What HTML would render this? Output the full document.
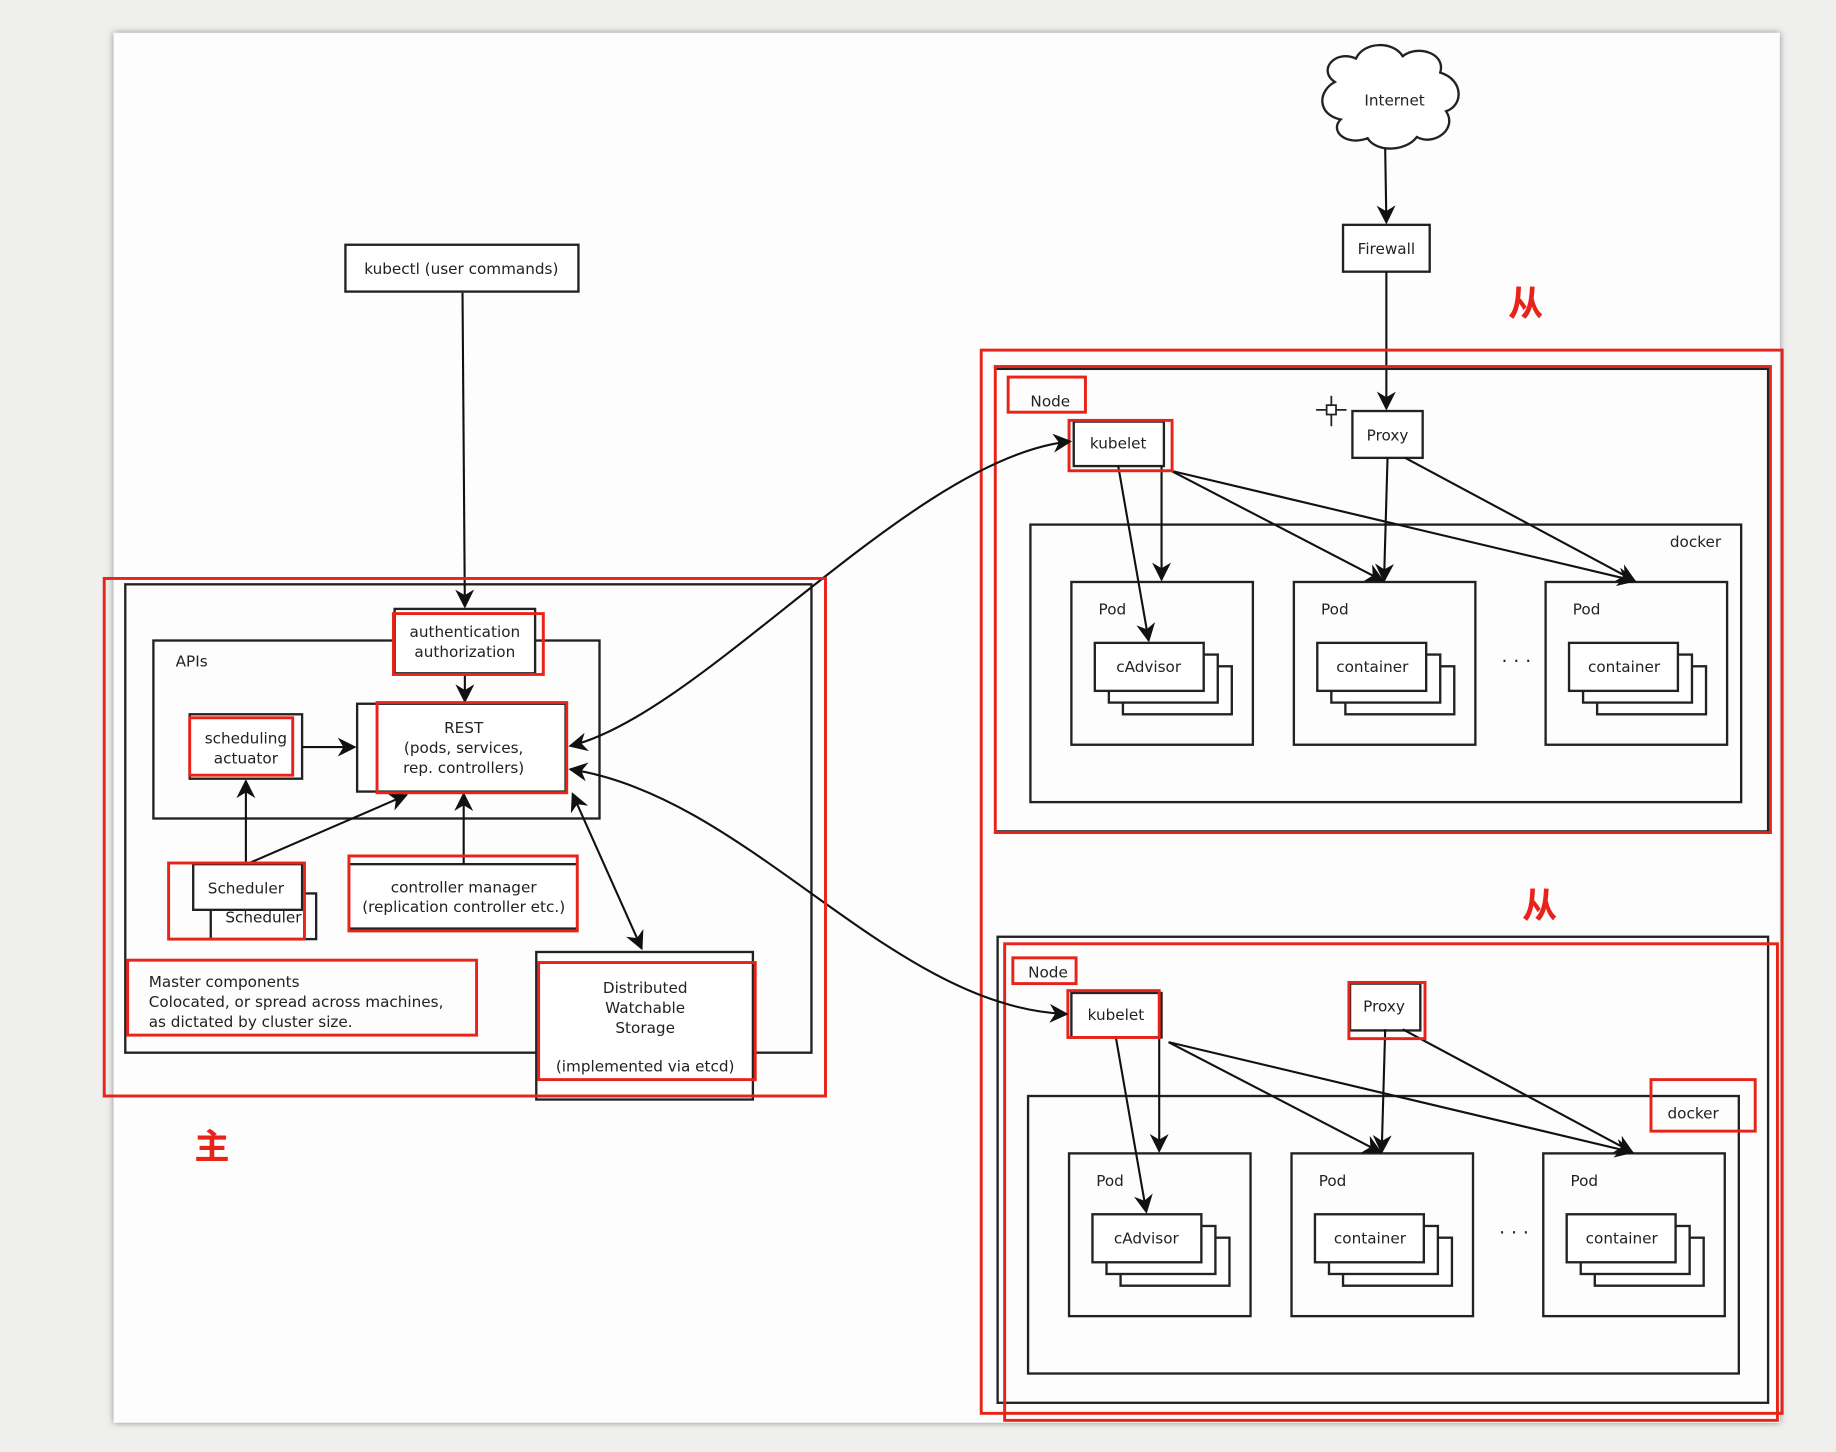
<!DOCTYPE html>
<html><head><meta charset="utf-8"><style>html,body{margin:0;padding:0;background:#efefed}svg{display:block}</style></head><body>
<svg width="1836" height="1452" viewBox="0 0 1568 1240" xmlns="http://www.w3.org/2000/svg" font-family="'DejaVu Sans','Liberation Sans',sans-serif" font-size="13">
<defs>
<marker id="a" viewBox="0 0 10 10" refX="9" refY="5" markerWidth="9" markerHeight="9" orient="auto-start-reverse"><path d="M0,0 L10,5 L0,10 L3,5 z" fill="#111"/></marker>
<filter id="sh" x="-2%" y="-2%" width="104%" height="104%"><feDropShadow dx="0" dy="0" stdDeviation="3" flood-color="#888"/></filter>
<g id="node" fill="none" stroke="#222" stroke-width="2">
<rect x="917" y="360" width="77" height="38" fill="#fff"/>
<rect x="880" y="448" width="607" height="237"/>
<rect x="915" y="497" width="155" height="139"/>
<rect x="1105" y="497" width="155" height="139"/>
<rect x="1320" y="497" width="155" height="139"/>
<g fill="#fff">
<rect x="959" y="569" width="93" height="41"/><rect x="947" y="559" width="93" height="41"/><rect x="935" y="549" width="93" height="41"/>
<rect x="1149" y="569" width="93" height="41"/><rect x="1137" y="559" width="93" height="41"/><rect x="1125" y="549" width="93" height="41"/>
<rect x="1364" y="569" width="93" height="41"/><rect x="1352" y="559" width="93" height="41"/><rect x="1340" y="549" width="93" height="41"/>
</g>
<g stroke="#111" stroke-width="1.8" marker-end="url(#a)">
<line x1="955" y1="398" x2="981" y2="547"/>
<line x1="992" y1="398" x2="992" y2="495"/>
<line x1="1000" y1="402" x2="1181" y2="496"/>
<line x1="1000" y1="402" x2="1396" y2="496"/>
<line x1="1185" y1="391" x2="1182" y2="496"/>
<line x1="1200" y1="391" x2="1396" y2="496"/>
</g>
<g stroke="none" fill="#222">
<text x="955" y="383" text-anchor="middle">kubelet</text>
<text x="1448" y="467" text-anchor="middle">docker</text>
<text x="950" y="525" text-anchor="middle">Pod</text><text x="1140" y="525" text-anchor="middle">Pod</text><text x="1355" y="525" text-anchor="middle">Pod</text>
<text x="981" y="574" text-anchor="middle">cAdvisor</text><text x="1172" y="574" text-anchor="middle">container</text><text x="1387" y="574" text-anchor="middle">container</text>
<text x="1295" y="570" text-anchor="middle" font-size="16">· · ·</text>
</g>
</g>
</defs>
<rect x="97" y="28" width="1423" height="1187" fill="#fcfdfc" filter="url(#sh)"/>

<!-- Internet & firewall -->
<path d="M1140,70 C1125,60 1140,42 1158,50 C1165,35 1190,35 1198,48 C1210,38 1235,45 1230,62 C1250,68 1250,90 1235,95 C1245,110 1225,125 1210,117 C1200,130 1175,130 1168,118 C1150,125 1135,112 1145,102 C1125,98 1125,78 1140,70 Z" fill="#fff" stroke="#222" stroke-width="2"/>
<text x="1191" y="90" text-anchor="middle" fill="#222">Internet</text>
<rect x="1147" y="192" width="74" height="40" fill="#fff" stroke="#222" stroke-width="2"/>
<text x="1184" y="217" text-anchor="middle" fill="#222">Firewall</text>
<g stroke="#111" stroke-width="1.8" fill="none" marker-end="url(#a)">
<line x1="1183" y1="127" x2="1184" y2="190"/>
<line x1="1184" y1="232" x2="1184" y2="349"/>
</g>

<!-- Node 1 -->
<rect x="850" y="315" width="660" height="395" fill="none" stroke="#222" stroke-width="2"/>
<rect x="1155" y="351" width="60" height="40" fill="#fff" stroke="#222" stroke-width="2"/>
<text x="1185" y="376" text-anchor="middle" fill="#222">Proxy</text>
<text x="897" y="347" text-anchor="middle" fill="#222">Node</text>
<use href="#node"/>
<g fill="none" stroke="#e8231a" stroke-width="2.5">
<rect x="838" y="299" width="684" height="908"/>
<rect x="850" y="313" width="662" height="398"/>
<rect x="861" y="322" width="66" height="30"/>
<rect x="913" y="359" width="88" height="43"/>
</g>
<g stroke="#222" stroke-width="1.5"><line x1="1124" y1="350" x2="1150" y2="350"/><line x1="1137" y1="338" x2="1137" y2="364"/></g>
<rect x="1133" y="346" width="8" height="8" fill="#fff" stroke="#222" stroke-width="1.5"/>

<!-- Node 2 -->
<rect x="852" y="800" width="658" height="398" fill="none" stroke="#222" stroke-width="2"/>
<rect x="1153" y="840" width="60" height="40" fill="#fff" stroke="#222" stroke-width="2"/>
<text x="1182" y="864" text-anchor="middle" fill="#222">Proxy</text>
<text x="895" y="835" text-anchor="middle" fill="#222">Node</text>
<g transform="translate(-2,488)"><use href="#node"/></g>
<g fill="none" stroke="#e8231a" stroke-width="2.5">
<rect x="858" y="806" width="660" height="407"/>
<rect x="865" y="818" width="54" height="22"/>
<rect x="912" y="846" width="78" height="40"/>
<rect x="1152" y="839" width="65" height="48"/>
<rect x="1410" y="922" width="89" height="44"/>
</g>

<!-- Master -->
<rect x="107" y="499" width="586" height="400" fill="none" stroke="#222" stroke-width="2"/>
<rect x="131" y="547" width="381" height="152" fill="none" stroke="#222" stroke-width="2"/>
<text x="150" y="569" fill="#222">APIs</text>
<rect x="337" y="520" width="120" height="55" fill="#fff" stroke="#222" stroke-width="2"/>
<text x="397" y="544" text-anchor="middle" fill="#222">authentication</text>
<text x="397" y="561" text-anchor="middle" fill="#222">authorization</text>
<rect x="305" y="601" width="178" height="75" fill="#fff" stroke="#222" stroke-width="2"/>
<text x="396" y="626" text-anchor="middle" fill="#222">REST</text>
<text x="396" y="643" text-anchor="middle" fill="#222">(pods, services,</text>
<text x="396" y="660" text-anchor="middle" fill="#222">rep. controllers)</text>
<rect x="162" y="610" width="96" height="55" fill="#fff" stroke="#222" stroke-width="2"/>
<text x="210" y="635" text-anchor="middle" fill="#222">scheduling</text>
<text x="210" y="652" text-anchor="middle" fill="#222">actuator</text>
<rect x="180" y="763" width="90" height="39" fill="#fff" stroke="#222" stroke-width="2"/>
<text x="225" y="788" text-anchor="middle" fill="#222">Scheduler</text>
<rect x="165" y="738" width="93" height="39" fill="#fff" stroke="#222" stroke-width="2"/>
<text x="210" y="763" text-anchor="middle" fill="#222">Scheduler</text>
<rect x="298" y="738" width="195" height="55" fill="#fff" stroke="#222" stroke-width="2"/>
<text x="396" y="762" text-anchor="middle" fill="#222">controller manager</text>
<text x="396" y="779" text-anchor="middle" fill="#222">(replication controller etc.)</text>
<text x="127" y="843" fill="#222">Master components</text>
<text x="127" y="860" fill="#222">Colocated, or spread across machines,</text>
<text x="127" y="877" fill="#222">as dictated by cluster size.</text>
<rect x="458" y="813" width="185" height="126" fill="#fff" stroke="#222" stroke-width="2"/>
<text x="551" y="848" text-anchor="middle" fill="#222">Distributed</text>
<text x="551" y="865" text-anchor="middle" fill="#222">Watchable</text>
<text x="551" y="882" text-anchor="middle" fill="#222">Storage</text>
<text x="551" y="915" text-anchor="middle" fill="#222">(implemented via etcd)</text>
<rect x="295" y="209" width="199" height="40" fill="#fff" stroke="#222" stroke-width="2"/>
<text x="394" y="234" text-anchor="middle" fill="#222">kubectl (user commands)</text>

<g stroke="#111" stroke-width="1.8" fill="none">
<line x1="395" y1="250" x2="397" y2="518" marker-end="url(#a)"/>
<line x1="397" y1="575" x2="397" y2="599" marker-end="url(#a)"/>
<line x1="258" y1="638" x2="303" y2="638" marker-end="url(#a)"/>
<line x1="210" y1="738" x2="210" y2="667" marker-end="url(#a)"/>
<line x1="213" y1="737" x2="347" y2="679" marker-end="url(#a)"/>
<line x1="396" y1="738" x2="396" y2="678" marker-end="url(#a)"/>
<line x1="489" y1="678" x2="548" y2="810" marker-start="url(#a)" marker-end="url(#a)"/>
<path d="M487,637 C600,610 780,390 914,377" marker-start="url(#a)" marker-end="url(#a)"/>
<path d="M487,657 C640,680 760,860 911,866" marker-start="url(#a)" marker-end="url(#a)"/>
</g>

<g fill="none" stroke="#e8231a" stroke-width="2.5">
<rect x="89" y="494" width="616" height="442"/>
<rect x="336" y="524" width="128" height="52"/>
<rect x="322" y="600" width="162" height="77"/>
<rect x="162" y="613" width="88" height="49"/>
<rect x="144" y="737" width="116" height="65"/>
<rect x="298" y="731" width="195" height="64"/>
<rect x="109" y="820" width="298" height="64"/>
<rect x="460" y="822" width="185" height="100"/>
</g>

<g fill="#e8231a" font-family="'Noto Sans CJK SC','WenQuanYi Zen Hei',sans-serif" font-size="30" font-weight="bold" text-anchor="middle">
<text x="181" y="990">主</text>
<text x="1303" y="270">从</text>
<text x="1315" y="784">从</text>
</g>
</svg>
</body></html>
